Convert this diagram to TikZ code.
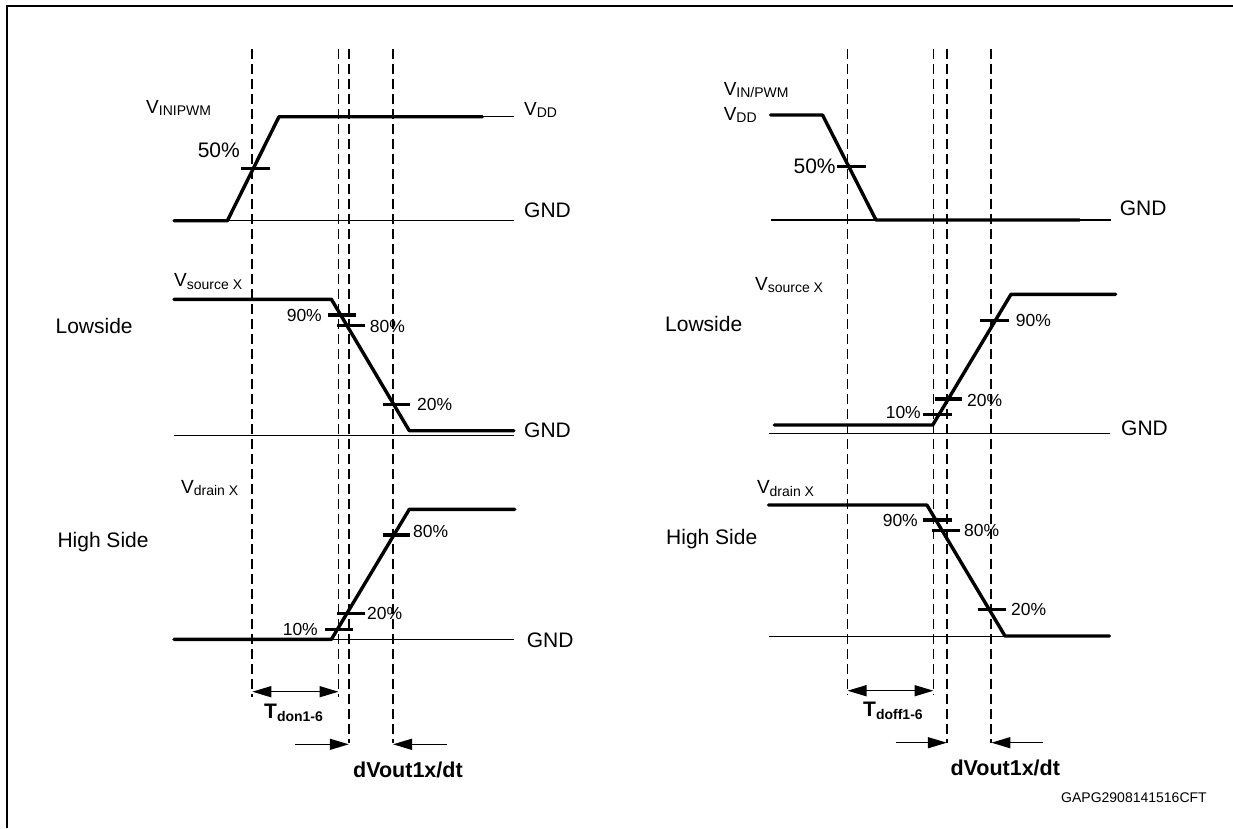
\documentclass[tikz,border=0pt]{standalone}
\usepackage{fontspec}
\setmainfont{Liberation Sans}
\usetikzlibrary{arrows.meta}

\newcommand{\fs}[1]{\fontsize{#1}{#1}\selectfont}
\newcommand{\vlab}[2]{\fs{19}#1\raisebox{-2.5pt}{\fs{14}#2}}
\newcommand{\tlab}[2]{\bfseries\fs{21}#1\raisebox{-2.5pt}{\fs{14}#2}}

\tikzset{
  sig/.style={line width=3.4pt, line cap=round, line join=round},
  gnd/.style={line width=1.1pt},
  guide/.style={line width=1.9pt, dash pattern=on 10pt off 5pt},
  tick/.style={line width=3.4pt},
  dim/.style={line width=1.4pt},
  lab/.style={inner sep=0pt, font=\fs{21}},
  pct/.style={inner sep=0pt, font=\fs{17.5}}
}

\begin{document}
\begin{tikzpicture}[x=1pt, y=-1pt, >={Triangle[length=19pt,width=11pt]}]
	\useasboundingbox (0,0) rectangle (1233,828);
	\draw[line width=2.6pt] (7,828) -- (7,6) -- (1233,6);

	% turn-on, left
	\foreach \x in {252.3, 338.5} \draw[guide] (\x,49) -- (\x,697);
	\foreach \x in {348.8, 393} \draw[guide] (\x,49) -- (\x,743);

	\draw[gnd] (174,220.7) -- (514,220.7); \draw[gnd] (482.4,116.7) -- (514,116.7);
	\draw[sig] (174,220.7) -- (227.4,220.7) -- (279,116.7) -- (482.4,116.7); \draw[tick] (241,168.7) -- (270,168.7);
	\node[inner sep=0pt, anchor=west] (vinl) at (146,108) {\vlab{V}{INIPWM}}; \node[inner sep=0pt, anchor=west] (vddl) at (524,110) {\vlab{V}{DD}};
	\node[lab, anchor=west] (gndal) at (524,210.7) {GND}; \node[lab, anchor=east] (pfl) at (240,150) {50\%};

	\draw[gnd] (174,435.7) -- (514,435.7);
	\draw[sig] (174,299.3) -- (331.4,299.3) -- (409.3,430.7) -- (514,430.7);
	\draw[tick] (328,315) -- (356,315); \draw[tick] (337,325.7) -- (364.6,325.7); \draw[tick] (382.8,404.3) -- (410.4,404.3);
	\node[inner sep=0pt, anchor=west] (vsl) at (174,281.7) {\vlab{V}{source X}}; \node[lab, anchor=west] (lsl) at (55.4,325.7) {Lowside};
	\node[pct, anchor=east] (p9l) at (322,315) {90\%}; \node[pct, anchor=west] (p8l) at (369.7,326.7) {80\%}; \node[pct, anchor=west] (p2l) at (417,404) {20\%};
	\node[lab, anchor=west] (gndbl) at (524,430) {GND};

	\draw[gnd] (331.4,639.3) -- (514,639.3);
	\draw[sig] (174,639.3) -- (331.4,639.3) -- (409.3,509.3) -- (514.8,509.3);
	\draw[tick] (382.8,535) -- (410.4,535); \draw[tick] (337,613.3) -- (364.6,613.3); \draw[tick] (325,629.3) -- (352.7,629.3);
	\node[inner sep=0pt, anchor=west] (vdl) at (181,488) {\vlab{V}{drain X}}; \node[lab, anchor=west] (hsl) at (57.3,541.7) {High Side};
	\node[pct, anchor=west] (q8l) at (413,531.7) {80\%}; \node[pct, anchor=west] (q2l) at (367,613) {20\%}; \node[pct, anchor=east] (q1l) at (318,629.3) {10\%};
	\node[lab, anchor=west] (gndcl) at (526.7,640) {GND};

	\draw[dim, <->] (252.3,691.7) -- (338.5,691.7); \node[inner sep=0pt, anchor=west] (tdon) at (264,713) {\tlab{T}{don1-6}};
	\draw[dim, ->] (294.6,744.3) -- (348.8,744.3); \draw[dim, ->] (446.8,744.3) -- (393,744.3);
	\node[lab, font=\bfseries\fs{21.5}, anchor=west] (dvl) at (353,770) {dVout1x/dt};

	% turn-off, right
	\foreach \x in {847.5, 933.5} \draw[guide] (\x,49) -- (\x,695);
	\foreach \x in {946.8, 991.4} \draw[guide] (\x,49) -- (\x,743);

	\draw[gnd] (770.5,220) -- (1110.6,220);
	\draw[sig] (770.5,115) -- (822.5,115) -- (876,220) -- (1079.3,220); \draw[tick] (837,166.7) -- (866.3,166.7);
	\node[inner sep=0pt, anchor=west] (vinr) at (723.6,90) {\vlab{V}{IN/PWM}}; \node[inner sep=0pt, anchor=west] (vddr) at (723.6,115) {\vlab{V}{DD}};
	\node[lab, anchor=west] (gndar) at (1119.6,208.3) {GND}; \node[lab, anchor=east] (pfr) at (835.8,166.7) {50\%};

	\draw[gnd] (769.3,433.3) -- (1109.5,433.3);
	\draw[sig] (774.4,425) -- (932.7,425) -- (1011,294.3) -- (1115.7,294.3);
	\draw[tick] (980.4,320.7) -- (1009,320.7); \draw[tick] (934.7,399) -- (962,399); \draw[tick] (923,414.3) -- (951.5,414.3);
	\node[inner sep=0pt, anchor=west] (vsr) at (754.9,285) {\vlab{V}{source X}}; \node[lab, anchor=west] (lsr) at (665,324.3) {Lowside};
	\node[pct, anchor=west] (p9r) at (1015.6,320) {90\%}; \node[pct, anchor=west] (p2r) at (967,400) {20\%}; \node[pct, anchor=east] (p1r) at (921,412.3) {10\%};
	\node[lab, anchor=west] (gndbr) at (1121,428.3) {GND};

	\draw[gnd] (769.3,636.7) -- (1005,636.7);
	\draw[sig] (768.6,505) -- (926.9,505) -- (1005,636) -- (1109.5,636);
	\draw[tick] (923,520) -- (951.5,520); \draw[tick] (932,530.7) -- (960,530.7); \draw[tick] (977.7,609.3) -- (1006.2,609.3);
	\node[inner sep=0pt, anchor=west] (vdr) at (756.8,488.3) {\vlab{V}{drain X}}; \node[lab, anchor=west] (hsr) at (666,539.3) {High Side};
	\node[pct, anchor=east] (q9r) at (918,520.7) {90\%}; \node[pct, anchor=west] (q8r) at (964,530.7) {80\%}; \node[pct, anchor=west] (q2r) at (1011,609) {20\%};

	\draw[dim, <->] (847.5,690.7) -- (933.5,690.7); \node[inner sep=0pt, anchor=west] (tdoff) at (863,710.7) {\tlab{T}{doff1-6}};
	\draw[dim, ->] (895.6,742.7) -- (946.8,742.7); \draw[dim, ->] (1043,742.7) -- (991.4,742.7);
	\node[lab, font=\bfseries\fs{21.5}, anchor=west] (dvr) at (950.3,768.3) {dVout1x/dt};

	\node[inner sep=0pt, font=\fs{14}, anchor=west] (code) at (1061,797.3) {GAPG2908141516CFT};
\end{tikzpicture}
\end{document}
